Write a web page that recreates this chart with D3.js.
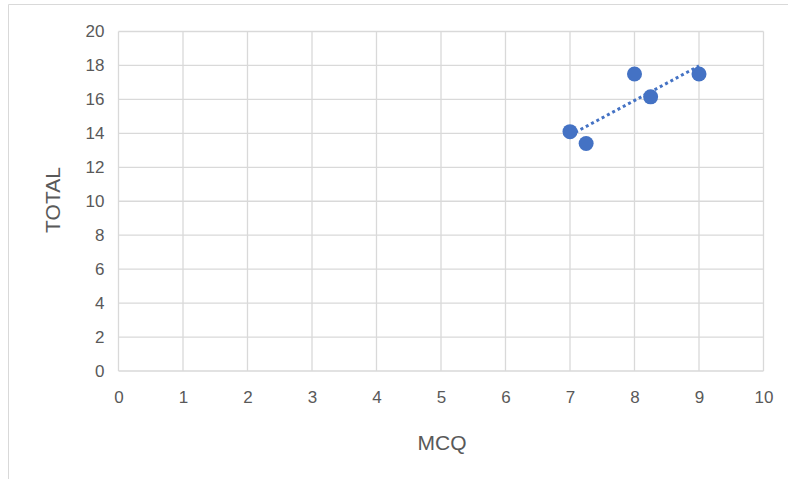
<!DOCTYPE html>
<html>
<head>
<meta charset="utf-8">
<script src="https://cdn.jsdelivr.net/npm/d3@7"></script>
<style>
  html, body { margin: 0; padding: 0; background: #fff; }
  svg { display: block; }
  text { font-family: "Liberation Sans", "DejaVu Sans", sans-serif; fill: #595959; }
</style>
</head>
<body>
<svg id="chart" width="788" height="479"></svg>
<script>
// Scores: multiple-choice mark vs. total mark
const mcq   = [7, 7.25, 8, 8.25, 9];
const total = [14.1, 13.4, 17.5, 16.15, 17.5];
const xTicks = [0, 1, 2, 3, 4, 5, 6, 7, 8, 9, 10];
const yTicks = [0, 2, 4, 6, 8, 10, 12, 14, 16, 18, 20];

const svg = d3.select("#chart");
const W = 788, H = 479;
const plot = { left: 118.5, right: 763.5, top: 31.5, bottom: 371 };

// chart frame (top and left edges visible)
svg.append("path")
  .attr("d", `M8.5,${H} L8.5,4.5 L${W},4.5`)
  .attr("fill", "none").attr("stroke", "#d9d9d9").attr("stroke-width", 1);

const x = d3.scaleLinear().domain([0, 10]).range([plot.left, plot.right]);
const y = d3.scaleLinear().domain([0, 20]).range([plot.bottom, plot.top]);

// gridlines
const grid = svg.append("g").attr("stroke", "#d9d9d9").attr("stroke-width", 1.3);
grid.selectAll("line.v").data(xTicks).join("line")
  .attr("x1", d => x(d)).attr("x2", d => x(d))
  .attr("y1", plot.top).attr("y2", plot.bottom);
grid.selectAll("line.h").data(yTicks).join("line")
  .attr("y1", d => y(d)).attr("y2", d => y(d))
  .attr("x1", plot.left).attr("x2", plot.right);

// axes via d3 axis generators, styled as plain labels
const xAxis = svg.append("g")
  .attr("transform", `translate(0,${plot.bottom})`)
  .call(d3.axisBottom(x).tickValues(xTicks).tickSize(0).tickPadding(20).tickFormat(d3.format("d")));
const yAxis = svg.append("g")
  .attr("transform", `translate(${plot.left},0)`)
  .call(d3.axisLeft(y).tickValues(yTicks).tickSize(0).tickPadding(14).tickFormat(d3.format("d")));
[xAxis, yAxis].forEach(a => {
  a.select(".domain").remove();
  a.selectAll("text").attr("font-size", 17).attr("fill", "#595959")
    .style("font-family", "'Liberation Sans', sans-serif");
});

// axis titles
svg.append("text")
  .attr("x", 442).attr("y", 450)
  .attr("text-anchor", "middle").attr("font-size", 21)
  .text("MCQ");
svg.append("text")
  .attr("transform", "translate(60,200) rotate(-90)")
  .attr("text-anchor", "middle").attr("font-size", 21)
  .text("TOTAL");

// linear trendline (least squares)
const n = mcq.length;
const mx = d3.mean(mcq), my = d3.mean(total);
let sxy = 0, sxx = 0;
for (let i = 0; i < n; i++) {
  sxy += (mcq[i] - mx) * (total[i] - my);
  sxx += (mcq[i] - mx) ** 2;
}
const slope = sxy / sxx, icpt = my - slope * mx;
const xr = d3.extent(mcq);
svg.append("line")
  .attr("x1", x(xr[0])).attr("y1", y(icpt + slope * xr[0]))
  .attr("x2", x(xr[1])).attr("y2", y(icpt + slope * xr[1]))
  .attr("stroke", "#4472c4").attr("stroke-width", 3)
  .attr("stroke-dasharray", "3,3");

// points
svg.append("g").selectAll("circle")
  .data(mcq.map((v, i) => [v, total[i]]))
  .join("circle")
  .attr("cx", d => x(d[0])).attr("cy", d => y(d[1]))
  .attr("r", 7.5)
  .attr("fill", "#4472c4");
</script>
</body>
</html>
